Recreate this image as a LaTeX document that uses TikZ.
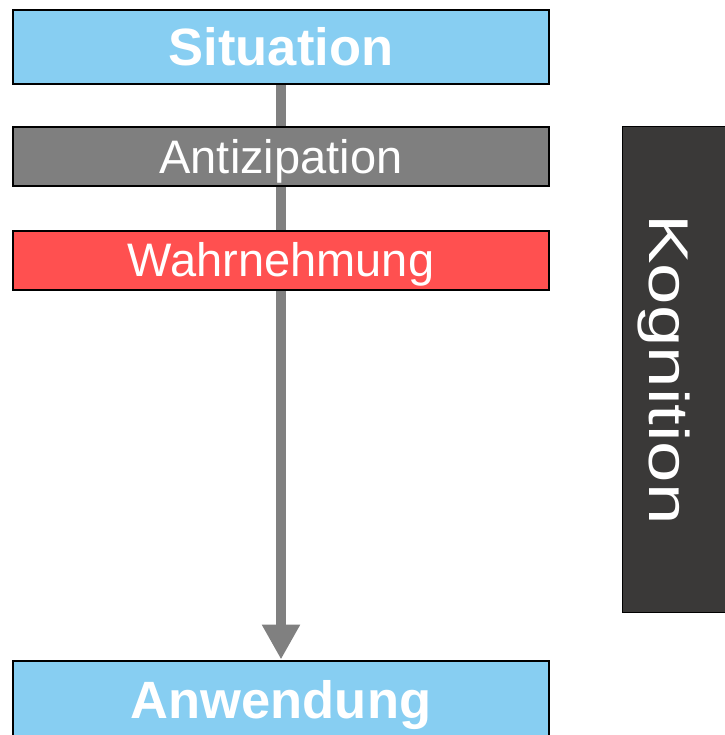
\documentclass[tikz,border=0pt]{standalone}
\usepackage{fontspec}
\setmainfont{Liberation Sans}
\newfontfamily\kogfont{Liberation Sans}[FakeStretch=1.33]
\usepackage{tikz}
\usetikzlibrary{arrows.meta, backgrounds}
\definecolor{kBlue}{HTML}{87CEF2}
\definecolor{kGray}{HTML}{7F7F7F}
\definecolor{kRed}{HTML}{FF5050}
\definecolor{kDark}{HTML}{3A3938}
\definecolor{kArrow}{HTML}{808080}
\tikzstyle{fBlueBox} = [rectangle, minimum width=536pt, minimum height=74pt, text height=37.5pt, text depth=0pt, inner sep=0pt, draw=black, line width=2pt, fill=kBlue, text=white, font=\fontsize{52.5}{58}\selectfont\bfseries]
\tikzstyle{fGrayBox} = [rectangle, minimum width=536pt, minimum height=59pt, text height=33.5pt, text depth=0pt, inner sep=0pt, draw=black, line width=2pt, fill=kGray, text=white, font=\fontsize{47}{52}\selectfont]
\tikzstyle{fRedBox} = [fGrayBox, fill=kRed]
\tikzstyle{fSideBox} = [rectangle, minimum width=108pt, minimum height=485pt, draw=black, line width=1pt, fill=kDark]
\tikzstyle{fSideText} = [rotate=-90, text height=40pt, text depth=0pt, inner sep=0pt, text=white, font=\kogfont\fontsize{56}{60}\selectfont]
\tikzstyle{fArrow} = [line width=10.5pt, draw=kArrow, -{Triangle[length=35pt, width=36pt]}]

\begin{document}
\begin{tikzpicture}[x=1pt, y=-1pt, node distance=103pt]
    \useasboundingbox (0,0) rectangle (724,735);
    \node (situation) [fBlueBox] at (281,47) {Situation};
    \node (antizipation) [fGrayBox, below of=situation, yshift=-7pt] {Antizipation};
    \node (wahrnehmung) [fRedBox, below of=antizipation] {Wahrnehmung};
    \node (anwendung) [fBlueBox, minimum height=78pt, below of=wahrnehmung, yshift=-336.5pt] {Anwendung};
    \node (kognition) [fSideBox] at (676,369.5) {};
    \node (kognitionlabel) [fSideText] at (669,369.5) {Kognition};

    \begin{pgfonlayer}{background}
        \draw [fArrow] (situation) -- (anwendung);
    \end{pgfonlayer}
\end{tikzpicture}
\end{document}
